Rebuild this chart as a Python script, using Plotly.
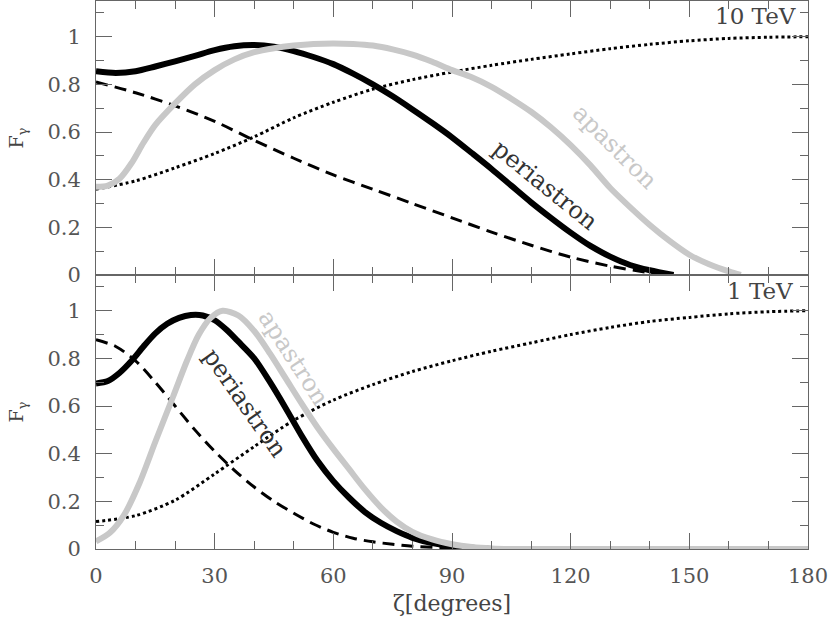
import plotly.graph_objects as go
from plotly.subplots import make_subplots

# 10 TeV panel (top)
peri_10_x = [0, 5, 10, 15, 20, 25, 30, 35, 40, 45, 50, 55, 60, 65, 70, 75, 80,
             85, 90, 95, 100, 105, 110, 115, 120, 125, 130, 135, 140, 146]
peri_10_y = [0.855, 0.848, 0.855, 0.875, 0.897, 0.92, 0.944, 0.96, 0.965,
             0.958, 0.94, 0.915, 0.885, 0.845, 0.80, 0.75, 0.695, 0.638,
             0.578, 0.512, 0.445, 0.375, 0.305, 0.24, 0.178, 0.122, 0.077,
             0.042, 0.02, 0.0]

apa_10_x = [0, 3, 6, 9, 12, 15, 20, 25, 30, 35, 40, 45, 50, 55, 60, 65, 70,
            75, 80, 85, 90, 95, 100, 105, 110, 115, 120, 125, 130, 135, 140,
            145, 150, 155, 160, 163]
apa_10_y = [0.37, 0.375, 0.405, 0.47, 0.555, 0.63, 0.72, 0.80, 0.86, 0.905,
            0.935, 0.952, 0.963, 0.97, 0.972, 0.97, 0.963, 0.947, 0.925, 0.895,
            0.86, 0.83, 0.79, 0.74, 0.685, 0.62, 0.545, 0.46, 0.365, 0.285,
            0.21, 0.143, 0.085, 0.045, 0.015, 0.0]

dash_10_x = [0, 10, 20, 30, 40, 50, 60, 70, 80, 90, 100, 110, 120, 130, 140,
             146]
dash_10_y = [0.81, 0.765, 0.71, 0.645, 0.565, 0.49, 0.42, 0.36, 0.30, 0.24,
             0.18, 0.125, 0.075, 0.037, 0.01, 0.0]

dot_10_x = [0, 10, 20, 30, 40, 50, 60, 70, 80, 90, 100, 110, 120, 130, 140,
            150, 160, 170, 180]
dot_10_y = [0.36, 0.395, 0.45, 0.51, 0.58, 0.66, 0.725, 0.78, 0.82, 0.852,
            0.88, 0.905, 0.928, 0.95, 0.968, 0.983, 0.993, 0.998, 1.0]

# 1 TeV panel (bottom)
peri_1_x = [0, 3, 6, 9, 12, 15, 18, 21, 24, 27, 30, 33, 36, 40, 44, 48, 52, 56,
            60, 64, 68, 72, 76, 80, 85, 90, 95, 100, 180]
peri_1_y = [0.695, 0.705, 0.74, 0.79, 0.85, 0.905, 0.945, 0.97, 0.982, 0.98,
            0.96, 0.92, 0.87, 0.80, 0.70, 0.59, 0.475, 0.37, 0.285, 0.215,
            0.155, 0.11, 0.075, 0.047, 0.025, 0.012, 0.005, 0.0, 0.0]

apa_1_x = [0, 3.5, 7, 11, 15, 19.5, 23, 26, 29, 32, 36, 40, 44, 48, 52, 56,
           60, 64, 68, 72, 76, 80, 85, 90, 95, 100, 105, 180]
apa_1_y = [0.032, 0.068, 0.14, 0.277, 0.45, 0.64, 0.79, 0.9, 0.97, 1.0, 0.98,
           0.915, 0.82, 0.715, 0.61, 0.51, 0.42, 0.335, 0.25, 0.175, 0.115,
           0.072, 0.04, 0.02, 0.008, 0.002, 0.0, 0.0]

dash_1_x = [0, 5, 10, 15, 20, 25, 30, 35, 40, 45, 50, 55, 60, 65, 70, 75, 80,
            90, 100, 180]
dash_1_y = [0.878, 0.85, 0.79, 0.70, 0.60, 0.50, 0.41, 0.33, 0.26, 0.20, 0.15,
            0.105, 0.07, 0.045, 0.03, 0.02, 0.012, 0.004, 0.0, 0.0]

dot_1_x = [0, 10, 20, 30, 40, 50, 60, 70, 80, 90, 100, 110, 120, 130, 140,
           150, 160, 170, 180]
dot_1_y = [0.115, 0.14, 0.205, 0.315, 0.43, 0.54, 0.625, 0.69, 0.745, 0.79,
           0.83, 0.865, 0.9, 0.93, 0.955, 0.972, 0.987, 0.996, 1.0]

FONT = "DejaVu Serif"
AXIS_COLOR = "#666"
GREY = "#c8c8c8"

fig = make_subplots(rows=2, cols=1, vertical_spacing=0)

panels = [
    (1, dot_10_x, dot_10_y, dash_10_x, dash_10_y, peri_10_x, peri_10_y,
     apa_10_x, apa_10_y),
    (2, dot_1_x, dot_1_y, dash_1_x, dash_1_y, peri_1_x, peri_1_y,
     apa_1_x, apa_1_y),
]
for row, dtx, dty, dsx, dsy, px_, py_, ax_, ay_ in panels:
    fig.add_trace(go.Scatter(x=dtx, y=dty, mode="lines",
                             line=dict(color="black", width=3, dash="3px,3px")),
                  row=row, col=1)
    fig.add_trace(go.Scatter(x=dsx, y=dsy, mode="lines",
                             line=dict(color="black", width=3,
                                       dash="12px,7px")),
                  row=row, col=1)
    fig.add_trace(go.Scatter(x=px_, y=py_, mode="lines",
                             line=dict(color="black", width=6)),
                  row=row, col=1)
    fig.add_trace(go.Scatter(x=ax_, y=ay_, mode="lines",
                             line=dict(color=GREY, width=6)),
                  row=row, col=1)

fig.update_traces(showlegend=False, hoverinfo="skip",
                  line_shape="spline", line_smoothing=0.8)

common = dict(
    showline=True, linecolor=AXIS_COLOR, linewidth=1, mirror="allticks",
    ticks="inside", tickcolor=AXIS_COLOR, tickwidth=1, ticklen=16,
    showgrid=False, zeroline=False, automargin=False,
    tickfont=dict(family=FONT, size=21, color="#555"),
)
fig.update_xaxes(
    range=[0, 180], tick0=0, dtick=30, ticklabelstandoff=8,
    minor=dict(ticks="inside", dtick=10, ticklen=8, tickcolor=AXIS_COLOR),
    **common,
)
fig.update_xaxes(showticklabels=False, row=1, col=1)
fig.update_xaxes(
    title=dict(text="ζ[degrees]", font=dict(family=FONT, size=22, color="#444"),
               standoff=8),
    row=2, col=1,
)
fig.update_yaxes(
    range=[0, 1.15], tick0=0, dtick=0.2, ticklabelstandoff=10,
    minor=dict(ticks="inside", dtick=0.1, ticklen=8, tickcolor=AXIS_COLOR),
    title=dict(text="F<sub>γ</sub>", font=dict(family=FONT, size=19,
                                                color="#444"), standoff=18),
    **common,
)

labels = [
    (1, "10 TeV", 177.5, 1.085, 0, "#444", "right", 23),
    (2, "1 TeV", 176.7, 1.084, 0, "#444", "right", 23),
    (1, "periastron", 113.5, 0.378, 39, "#333", "center", 24),
    (1, "apastron", 131.2, 0.537, 45, GREY, "center", 24),
    (2, "periastron", 37.7, 0.614, 55, "#333", "center", 24),
    (2, "apastron", 50.0, 0.803, 57, GREY, "center", 24),
]
for row, text, x, y, angle, color, anchor, size in labels:
    fig.add_annotation(
        x=x, y=y, text=text, textangle=angle, showarrow=False,
        xanchor=anchor, yanchor="middle",
        font=dict(family=FONT, size=size, color=color),
        row=row, col=1,
    )

fig.update_layout(
    width=830, height=621,
    margin=dict(l=96, r=22, t=1, b=72),
    paper_bgcolor="white", plot_bgcolor="white",
    font_family=FONT,
)

fig.write_html("out.html", config={"displayModeBar": False},
               post_script="document.body.style.margin = '0';")
